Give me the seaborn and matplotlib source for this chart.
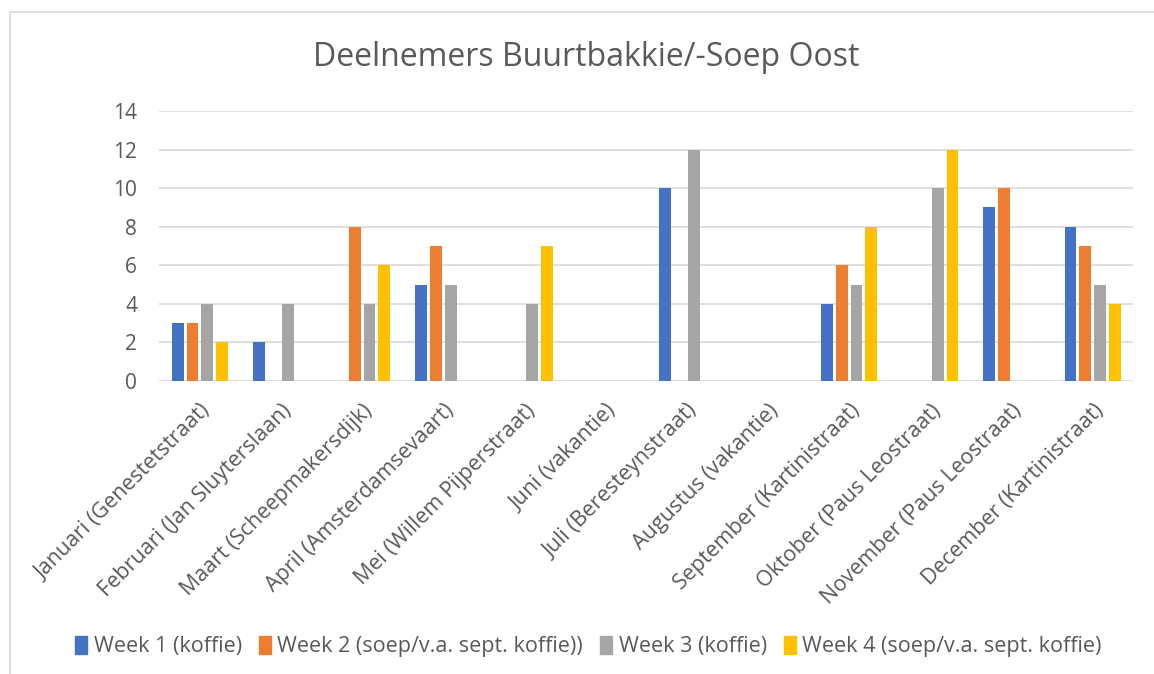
import pandas as pd
import matplotlib.pyplot as plt
import matplotlib.patches as mpatches
import seaborn as sns

# data
maanden = ['Januari (Genestetstraat)', 'Februari (Jan Sluyterslaan)', 'Maart (Scheepmakersdijk)',
           'April (Amsterdamsevaart)', 'Mei (Willem Pijperstraat)', 'Juni (vakantie)',
           'Juli (Beresteynstraat)', 'Augustus (vakantie)', 'September (Kartinistraat)',
           'Oktober (Paus Leostraat)', 'November (Paus Leostraat)', 'December (Kartinistraat)']
reeksen = ['Week 1 (koffie)', 'Week 2 (soep/v.a. sept. koffie))', 'Week 3 (koffie)',
           'Week 4 (soep/v.a. sept. koffie)']
week1 = [3, 2, 0, 5, 0, 0, 10, 0, 4, 0, 9, 8]
week2 = [3, 0, 8, 7, 0, 0, 0, 0, 6, 0, 10, 7]
week3 = [4, 4, 4, 5, 4, 0, 12, 0, 5, 10, 0, 5]
week4 = [2, 0, 6, 0, 7, 0, 0, 0, 8, 12, 0, 4]
kleuren = ['#4472C4', '#ED7D31', '#A5A5A5', '#FFC000']

df = pd.DataFrame({'maand': maanden, reeksen[0]: week1, reeksen[1]: week2,
                   reeksen[2]: week3, reeksen[3]: week4})
df = df.melt(id_vars='maand', var_name='reeks', value_name='aantal')

sns.set_style('white')
plt.rcParams['font.family'] = ['Open Sans', 'DejaVu Sans']
tekst = '#595959'

fig = plt.figure(figsize=(11.54, 6.74), dpi=100)
ax = fig.add_axes([0.138, 0.435, 0.844, 0.40])

sns.barplot(data=df, x='maand', y='aantal', hue='reeks', hue_order=reeksen,
            palette=kleuren, width=0.73, gap=0.2, ax=ax, legend=False,
            linewidth=0, saturation=1)

ax.set_ylim(0, 14)
ax.set_yticks(range(0, 15, 2))
ax.set_xlim(-0.5, len(maanden) - 0.5)
ax.grid(axis='y', color='#d9d9d9', linewidth=1.2)
ax.set_axisbelow(True)
for s in ax.spines.values():
    s.set_visible(False)
ax.set_xlabel('')
ax.set_ylabel('')
ax.tick_params(axis='y', length=0, colors=tekst, labelsize=15, pad=16)
ax.tick_params(axis='x', length=0, colors=tekst, labelsize=15.5, pad=14)
plt.setp(ax.get_xticklabels(), rotation=45, ha='right', rotation_mode='anchor')

fig.text(0.508, 0.915, 'Deelnemers Buurtbakkie/-Soep Oost', ha='center', va='center',
         fontsize=23, color=tekst)

handles = [mpatches.Patch(color=c, label=r) for c, r in zip(kleuren, reeksen)]
fig.legend(handles=handles, loc='center', bbox_to_anchor=(0.51, 0.041), ncol=4,
           frameon=False, fontsize=15.5, labelcolor=tekst, handlelength=0.55,
           handleheight=0.9, handletextpad=0.3, columnspacing=0.8)

# chart border
fig.patches.append(mpatches.Rectangle((10 / 1154, -0.05), 1.0, 1 - 12 / 674 + 0.05,
                                      transform=fig.transFigure, fill=False,
                                      edgecolor='#d9d9d9', linewidth=1.2))

plt.savefig('out.png', dpi=100)
plt.close()
